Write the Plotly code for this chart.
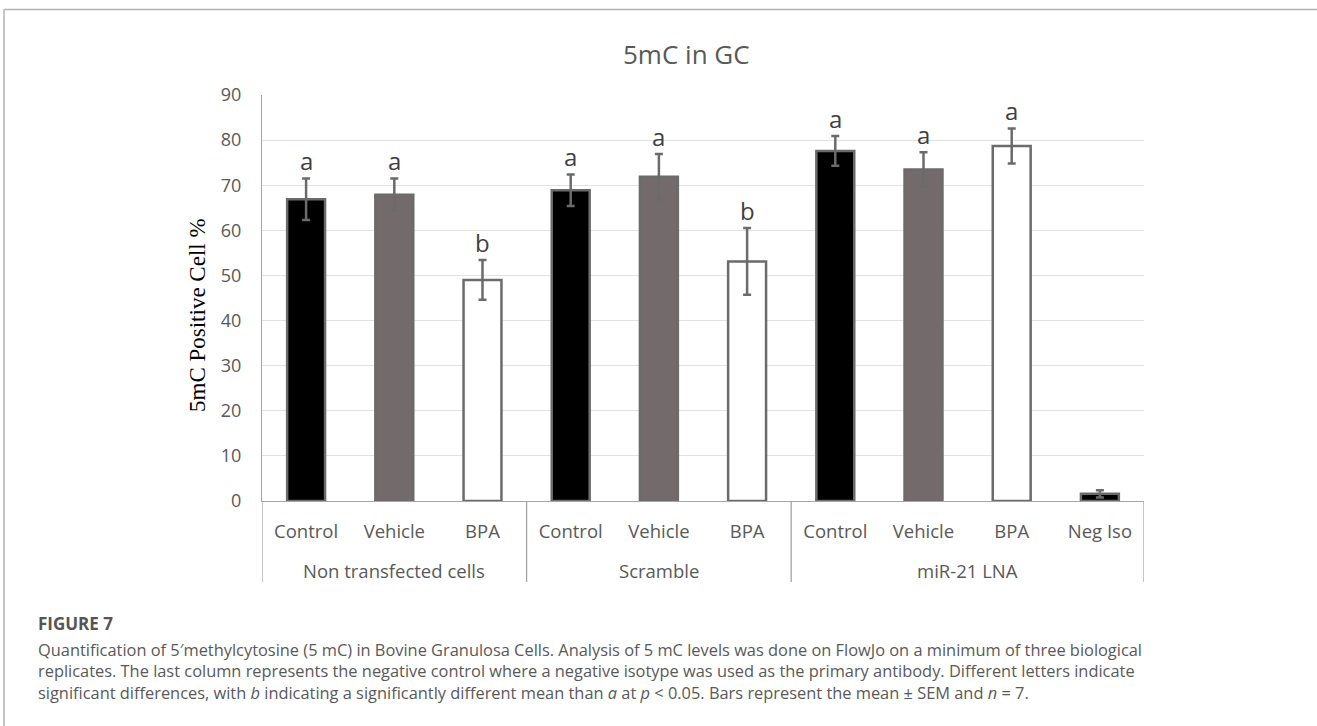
import plotly.graph_objects as go

# ---- data -------------------------------------------------------------
groups = ["Non transfected cells", "Scramble", "miR-21 LNA"]
group_treatments = [
    ["Control", "Vehicle", "BPA"],
    ["Control", "Vehicle", "BPA"],
    ["Control", "Vehicle", "BPA", "Neg Iso"],
]
positive_pct = [66.9, 67.9, 49.0, 68.9, 71.9, 53.1, 77.6, 73.5, 78.7, 1.6]
sem_pct = [4.6, 3.6, 4.4, 3.5, 5.0, 7.4, 3.3, 3.8, 3.9, 0.8]
sig_letters = ["a", "a", "b", "a", "a", "b", "a", "a", "a", ""]
y_ticks = [0, 10, 20, 30, 40, 50, 60, 70, 80, 90]

# ---- styling ----------------------------------------------------------
fills = {"Control": "#000000", "Vehicle": "#736b6b", "BPA": "#ffffff", "Neg Iso": "#000000"}
GREY_TXT = "#595959"
EDGE = "#6b6b6b"

W, H = 1317, 726
PL, PR, PT, PB = 262, 1144, 95, 501   # plot area in pixels


def fx(px):
    return (px - PL) / (PR - PL)


def fy(py):
    return (PB - py) / (PB - PT)


labels = [t for g in group_treatments for t in g]
xpos = list(range(len(labels)))
colors = [fills[t] for t in labels]

fig = go.Figure()
fig.add_trace(go.Bar(
    x=xpos,
    y=positive_pct,
    width=0.43,
    marker=dict(color=colors, line=dict(color=EDGE, width=2.5)),
    error_y=dict(type="data", array=sem_pct, color=EDGE, thickness=2.5, width=4),
    showlegend=False,
    hoverinfo="skip",
))

annotations = []
# significance letters above the error bars
for i, (v, s, let) in enumerate(zip(positive_pct, sem_pct, sig_letters)):
    if let:
        annotations.append(dict(
            x=i, y=v + s + 3.9, xref="x", yref="y", text=let, showarrow=False,
            xanchor="center", yanchor="middle",
            font=dict(family="Open Sans", size=24, color="#3f3f3f"),
        ))

# group labels and dividers under the category labels
shapes = []
start = 0
bounds = [-0.5]
for g, treats in zip(groups, group_treatments):
    n = len(treats)
    annotations.append(dict(
        x=start + (n - 1) / 2, y=fy(570), xref="x", yref="paper", text=g,
        showarrow=False, xanchor="center", yanchor="middle",
        font=dict(family="Open Sans", size=18.5, color=GREY_TXT),
    ))
    start += n
    bounds.append(start - 0.5)
for b in bounds:
    shapes.append(dict(type="line", xref="x", yref="paper", x0=b, x1=b,
                       y0=0, y1=fy(582), line=dict(color="#a6a6a6", width=1.3)))

# chart title and y-axis title
annotations.append(dict(
    x=fx(686), y=fy(54), xref="paper", yref="paper", text="5mC in GC",
    showarrow=False, xanchor="center", yanchor="middle",
    font=dict(family="Open Sans", size=26, color=GREY_TXT),
))
annotations.append(dict(
    x=fx(197), y=fy(315), xref="paper", yref="paper", text="5mC Positive Cell %",
    showarrow=False, xanchor="center", yanchor="middle", textangle=-90,
    font=dict(family="Liberation Serif", size=23, color="#000000"),
))

# figure caption
annotations.append(dict(
    x=fx(36), y=fy(623), xref="paper", yref="paper", text="<b>FIGURE 7</b>",
    showarrow=False, xanchor="left", yanchor="middle",
    font=dict(family="Open Sans", size=17, color="#555555"),
))
caption_lines = [
    "Quantification of 5\u2032methylcytosine (5 mC) in Bovine Granulosa Cells. Analysis of 5 mC levels was done on FlowJo on a minimum of three biological",
    "replicates. The last column represents the negative control where a negative isotype was used as the primary antibody. Different letters indicate",
    "significant differences, with <i>b</i> indicating a significantly different mean than <i>a</i> at <i>p</i> &lt; 0.05. Bars represent the mean \u00b1 SEM and <i>n</i> = 7.",
]
annotations.append(dict(
    x=fx(36), y=fy(670.5), xref="paper", yref="paper", text="<br>".join(caption_lines),
    showarrow=False, xanchor="left", yanchor="middle", align="left",
    font=dict(family="Open Sans", size=16.4, color="#595959"),
))

# page frame
shapes.append(dict(type="line", xref="paper", yref="paper", x0=fx(4), x1=fx(W),
                   y0=fy(9.5), y1=fy(9.5), line=dict(color="#b3b3b3", width=1.5)))
shapes.append(dict(type="line", xref="paper", yref="paper", x0=fx(4), x1=fx(4),
                   y0=fy(9.5), y1=fy(H), line=dict(color="#b3b3b3", width=1.5)))

fig.update_layout(
    width=W, height=H,
    margin=dict(l=PL, r=W - PR, t=PT, b=H - PB, pad=0),
    paper_bgcolor="white", plot_bgcolor="white",
    annotations=annotations, shapes=shapes,
    bargap=0.57,
    xaxis=dict(
        range=[-0.5, len(labels) - 0.5],
        tickmode="array", tickvals=xpos, ticktext=labels,
        ticks="", showgrid=False, zeroline=False,
        showline=True, linecolor="#a6a6a6", linewidth=1.3,
        tickfont=dict(family="Open Sans", size=18.5, color=GREY_TXT),
        ticklabelstandoff=14,
    ),
    yaxis=dict(
        range=[0, 90], tickmode="array", tickvals=y_ticks,
        ticks="", showgrid=True, gridcolor="#e2e2e2", gridwidth=1,
        zeroline=False, showline=True, linecolor="#a6a6a6", linewidth=1.3,
        tickfont=dict(family="Open Sans", size=18, color=GREY_TXT),
        ticklabelstandoff=16,
    ),
)

fig.write_html("out.html")
